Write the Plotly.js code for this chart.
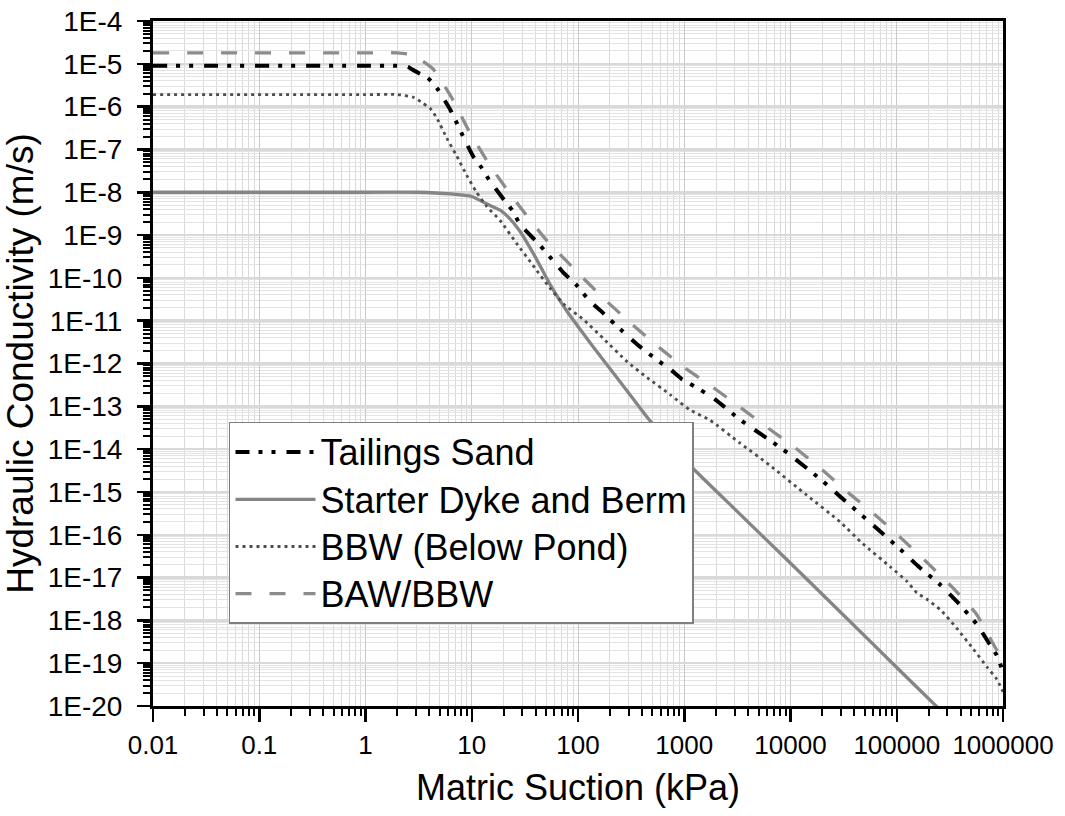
<!DOCTYPE html>
<html>
<head>
<meta charset="utf-8">
<script src="https://cdn.plot.ly/plotly-3.0.1.min.js"></script>
<style>html,body{margin:0;padding:0;background:#fff;}</style>
</head>
<body>
<div id="chart" style="width:1065px;height:816px;"></div>
<script>
// ---- Data ----
const seriesNames = ['Tailings Sand', 'Starter Dyke and Berm', 'BBW (Below Pond)', 'BAW/BBW'];

const tailingsX = [0.01, 1, 2.0, 2.5, 2.92, 3.87, 4.71, 6.24, 7.26, 8.09, 10.3, 12.5, 14.2, 20.6, 24.4, 28.4, 42.1, 51.1, 72.4, 95.5, 112, 130, 162, 224, 380, 550, 741, 955, 1413, 1950, 3350, 8510, 20400, 28200, 52500, 114800, 158500, 257000, 371500, 575000, 724000, 871000, 1000000];
const tailingsY = [9.0e-6, 9.0e-6, 9.0e-6, 8.51e-6, 6.76e-6, 4.68e-6, 2.69e-6, 8.71e-7, 4.07e-7, 2.29e-7, 6.92e-8, 3.63e-8, 2.14e-8, 6.17e-9, 3.63e-9, 1.78e-9, 6.46e-10, 3.72e-10, 1.35e-10, 7.08e-11, 4.37e-11, 2.82e-11, 1.74e-11, 8.13e-12, 2.51e-12, 1.23e-12, 7.24e-13, 4.27e-13, 2.45e-13, 1.45e-13, 4.90e-14, 9.77e-15, 1.74e-15, 8.51e-16, 2.24e-16, 3.98e-17, 1.86e-17, 6.76e-18, 2.69e-18, 7.76e-19, 3.16e-19, 1.55e-19, 6.31e-20];

const dykeX = [0.01, 1, 3.16, 6.31, 10, 13.8, 18.5, 22.9, 28.4, 39.8, 54.5, 78.7, 112, 161, 229, 330, 456, 708, 1183, 3162, 9268, 31620, 100000, 239300, 316200];
const dykeY = [1e-8, 1e-8, 1e-8, 9.12e-9, 7.94e-9, 5.37e-9, 3.80e-9, 2.40e-9, 1.23e-9, 3.02e-10, 7.08e-11, 1.66e-11, 5.0e-12, 1.51e-12, 4.90e-13, 1.51e-13, 5.25e-14, 1.41e-14, 3.72e-15, 3.47e-16, 2.60e-17, 1.32e-18, 7.94e-20, 9.55e-21, 4.9e-21];

const bbwPondX = [0.01, 1, 2.0, 2.82, 3.47, 4.05, 4.68, 5.81, 7.21, 8.95, 11.1, 13.8, 18.5, 26.5, 38.0, 54.5, 74.1, 112, 174, 288, 447, 741, 1122, 1738, 3350, 6310, 14130, 29240, 47860, 87100, 125900, 154900, 190500, 257000, 371500, 524800, 707900, 871000, 1000000];
const bbwPondY = [1.91e-6, 1.91e-6, 1.91e-6, 1.66e-6, 1.20e-6, 9.12e-7, 5.50e-7, 1.86e-7, 7.08e-8, 2.51e-8, 1.0e-8, 4.68e-9, 2.19e-9, 6.31e-10, 1.91e-10, 5.75e-11, 2.40e-11, 1.07e-11, 3.80e-12, 1.12e-12, 4.68e-13, 1.86e-13, 8.32e-14, 4.79e-14, 1.38e-14, 4.27e-15, 8.51e-16, 2.0e-16, 6.17e-17, 1.78e-17, 7.94e-18, 4.37e-18, 3.16e-18, 1.78e-18, 6.31e-19, 2.14e-19, 8.13e-20, 4.27e-20, 2.14e-20];

const bawX = [0.01, 1, 2.0, 2.75, 4.28, 6.47, 9.62, 14.3, 20.9, 32.0, 49.8, 94.4, 176, 308, 551, 1000, 1845, 3390, 6170, 11090, 19950, 35480, 62370, 111200, 196800, 331100, 557200, 805400, 1000000];
const bawY = [1.8e-5, 1.8e-5, 1.8e-5, 1.62e-5, 7.76e-6, 1.62e-6, 2.45e-7, 4.90e-8, 1.26e-8, 3.09e-9, 7.94e-10, 1.51e-10, 3.24e-11, 9.12e-12, 2.63e-12, 8.13e-13, 2.82e-13, 9.33e-14, 3.09e-14, 1.07e-14, 3.24e-15, 9.33e-16, 2.95e-16, 8.13e-17, 2.14e-17, 6.03e-18, 1.45e-18, 2.88e-19, 1.12e-19];

const xTickVals = [0.01, 0.1, 1, 10, 100, 1000, 10000, 100000, 1000000];
const xTickText = ['0.01', '0.1', '1', '10', '100', '1000', '10000', '100000', '1000000'];
const yTickVals = [1e-4, 1e-5, 1e-6, 1e-7, 1e-8, 1e-9, 1e-10, 1e-11, 1e-12, 1e-13, 1e-14, 1e-15, 1e-16, 1e-17, 1e-18, 1e-19, 1e-20];
const yTickText = ['1E-4', '1E-5', '1E-6', '1E-7', '1E-8', '1E-9', '1E-10', '1E-11', '1E-12', '1E-13', '1E-14', '1E-15', '1E-16', '1E-17', '1E-18', '1E-19', '1E-20'];

// ---- Minor tick positions (2..9 within each decade) ----
function minorVals(majors) {
  const out = [];
  majors.forEach(function (m) {
    for (let d = 2; d <= 9; d++) out.push(m * d);
  });
  return out;
}
const xMinor = minorVals(xTickVals.slice(0, -1));
const yMinor = minorVals(yTickVals.slice(1));

const FONT = 'Liberation Sans, Arial, Helvetica, sans-serif';
function legendLabel(s) { return '<span style="font-size:36px">' + s + '</span>'; }

const traces = [
  {
    x: tailingsX, y: tailingsY, name: legendLabel(seriesNames[0]), mode: 'lines',
    line: {color: '#000000', width: 4, dash: '14px,9px,4px,9px,4px,11px', shape: 'spline', smoothing: 0.5}
  },
  {
    x: dykeX, y: dykeY, name: legendLabel(seriesNames[1]), mode: 'lines',
    line: {color: '#858585', width: 3.3, dash: 'solid', shape: 'spline', smoothing: 0.5}
  },
  {
    x: bbwPondX, y: bbwPondY, name: legendLabel(seriesNames[2]), mode: 'lines',
    line: {color: '#4d4d4d', width: 2.8, dash: '3px,4px', shape: 'spline', smoothing: 0.5}
  },
  {
    x: bawX, y: bawY, name: legendLabel(seriesNames[3]), mode: 'lines',
    line: {color: '#8c8c8c', width: 3.3, dash: '16px,18px', shape: 'spline', smoothing: 0.5}
  }
];

const layout = {
  width: 1065, height: 816,
  margin: {l: 153, r: 62, t: 21, b: 110, pad: 0},
  paper_bgcolor: '#ffffff', plot_bgcolor: '#ffffff',
  font: {family: FONT, color: '#000000'},
  showlegend: true,
  legend: {
    x: 0.0894, y: 0.4146, xanchor: 'left', yanchor: 'top',
    bgcolor: '#ffffff', bordercolor: '#7f7f7f', borderwidth: 1.5,
    font: {family: FONT, size: 34, color: '#000000'},
    itemwidth: 80, tracegroupgap: 0
  },
  xaxis: {
    type: 'log', range: [-2, 6],
    tickmode: 'array', tickvals: xTickVals, ticktext: xTickText,
    ticks: 'outside', ticklen: 13, tickwidth: 2.5, tickcolor: '#000',
    tickfont: {family: FONT, size: 26, color: '#000'},
    ticklabelstandoff: 1,
    showline: true, linecolor: '#000', linewidth: 3, mirror: true,
    showgrid: true, gridcolor: '#c9c9c9', gridwidth: 1,
    zeroline: false,
    minor: {tickmode: 'array', tickvals: xMinor, ticks: 'outside', ticklen: 7, tickwidth: 2, tickcolor: '#000',
            showgrid: true, gridcolor: '#dadada', gridwidth: 1},
    title: {text: 'Matric Suction (kPa)', font: {family: FONT, size: 36, color: '#000'}, standoff: 16}
  },
  yaxis: {
    type: 'log', range: [-20, -4],
    tickmode: 'array', tickvals: yTickVals, ticktext: yTickText,
    ticks: 'outside', ticklen: 13, tickwidth: 2.5, tickcolor: '#000',
    tickfont: {family: FONT, size: 28, color: '#000'},
    ticklabelstandoff: 9,
    showline: true, linecolor: '#000', linewidth: 3, mirror: true,
    showgrid: true, gridcolor: '#d9d9d9', gridwidth: 2.5,
    zeroline: false,
    minor: {tickmode: 'array', tickvals: yMinor, ticks: 'outside', ticklen: 7, tickwidth: 2, tickcolor: '#000',
            showgrid: true, gridcolor: '#e3e3e3', gridwidth: 1},
    title: {text: 'Hydraulic Conductivity (m/s)', font: {family: FONT, size: 37, color: '#000'}, standoff: 8}
  }
};

Plotly.newPlot('chart', traces, layout, {displayModeBar: false, staticPlot: true});
</script>
</body>
</html>
